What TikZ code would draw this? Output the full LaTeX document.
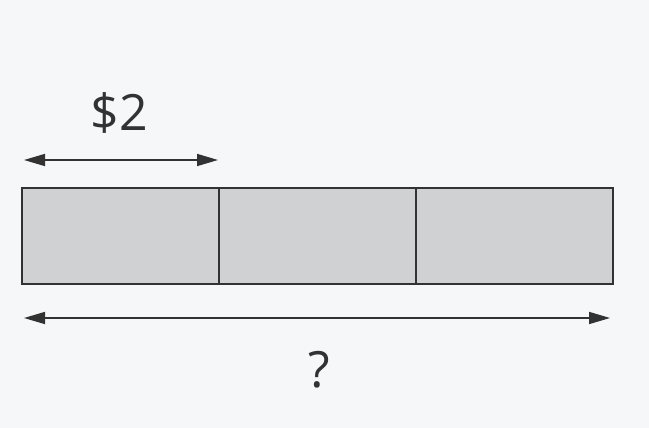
\documentclass[tikz,border=0pt]{standalone}
\usepackage{fontspec}
\setmainfont{Open Sans}
\usetikzlibrary{arrows.meta}
\usetikzlibrary{positioning}
\definecolor{inkgray}{RGB}{50,50,50}
\definecolor{barfill}{RGB}{208,209,210}
\definecolor{paper}{RGB}{246,247,248}
\begin{document}
\begin{tikzpicture}[x=1pt,y=-1pt]
	\tikzset{barpart/.style={draw=inkgray, fill=barfill, line width=1.6pt, minimum width=197pt, minimum height=96pt, inner sep=0pt, outer sep=0pt}}
	\tikzset{measure/.style={draw=inkgray, line width=1.6pt, {Triangle[length=21pt,width=12pt]}-{Triangle[length=21pt,width=12pt]}}}
	\tikzset{bigtext/.style={text=inkgray, inner sep=0pt, font=\fontsize{50}{50}\selectfont}}
	\fill [paper] (0,0) rectangle (649,428);
	\useasboundingbox (0,0) rectangle (649,428);
	% the bar in three equal parts
	\node [barpart, anchor=north west] (partA) at (22,188) {};
	\node [barpart, right=0pt of partA] (partB) {};
	\node [barpart, right=0pt of partB] (partC) {};
	% one part
	\coordinate (oneL) at (24,160);
	\coordinate (oneR) at (218,160);
	\draw [measure] (oneL) -- (oneR);
	\node [bigtext] (price) at (119,113) {\$2};
	% the whole
	\coordinate (allL) at (24,318);
	\coordinate (allR) at (610,318);
	\draw [measure] (allL) -- (allR);
	\node [bigtext] (total) at (319,370) {?};
\end{tikzpicture}
\end{document}
